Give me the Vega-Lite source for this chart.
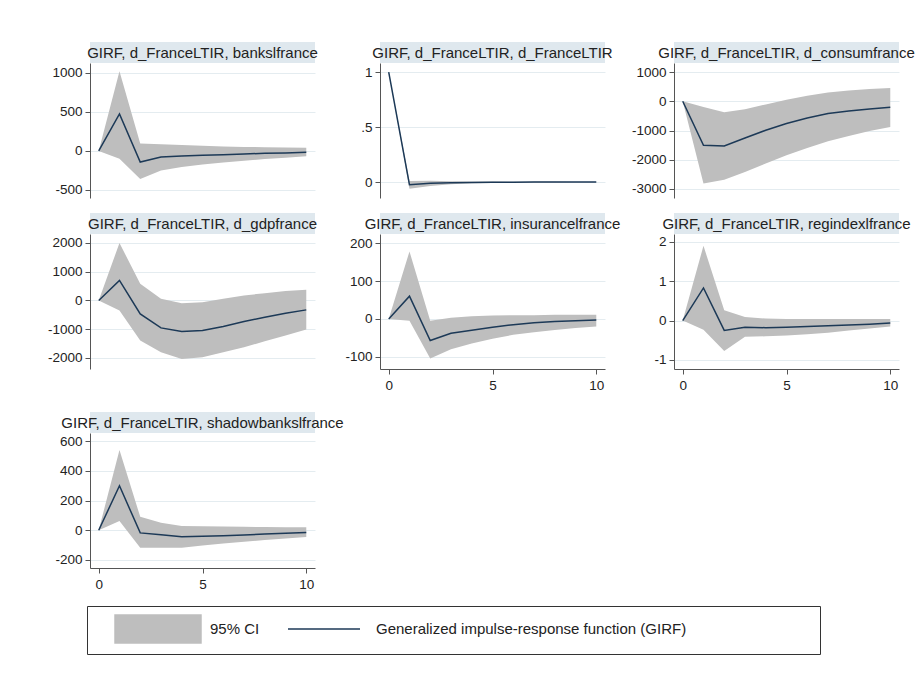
{
  "$schema": "https://vega.github.io/schema/vega-lite/v6.json",
  "background": "white",
  "padding": {"left": 47, "top": 42, "right": 5, "bottom": 5},
  "datasets": {
    "titles": [
      {"response": "bankslfrance", "label": "GIRF, d_FranceLTIR, bankslfrance"},
      {"response": "d_FranceLTIR", "label": "GIRF, d_FranceLTIR, d_FranceLTIR"},
      {"response": "d_consumfrance", "label": "GIRF, d_FranceLTIR, d_consumfrance"},
      {"response": "d_gdpfrance", "label": "GIRF, d_FranceLTIR, d_gdpfrance"},
      {"response": "insurancelfrance", "label": "GIRF, d_FranceLTIR, insurancelfrance"},
      {"response": "regindexlfrance", "label": "GIRF, d_FranceLTIR, regindexlfrance"},
      {"response": "shadowbankslfrance", "label": "GIRF, d_FranceLTIR, shadowbankslfrance"}
    ],
    "girf": [
      {"response": "bankslfrance", "step": 0, "girf": 0, "lo": 0, "hi": 0},
      {"response": "bankslfrance", "step": 1, "girf": 474, "lo": -100, "hi": 1021},
      {"response": "bankslfrance", "step": 2, "girf": -142, "lo": -358, "hi": 95},
      {"response": "bankslfrance", "step": 3, "girf": -78, "lo": -250, "hi": 85},
      {"response": "bankslfrance", "step": 4, "girf": -65, "lo": -207, "hi": 75},
      {"response": "bankslfrance", "step": 5, "girf": -56, "lo": -172, "hi": 66},
      {"response": "bankslfrance", "step": 6, "girf": -47, "lo": -147, "hi": 58},
      {"response": "bankslfrance", "step": 7, "girf": -39, "lo": -125, "hi": 52},
      {"response": "bankslfrance", "step": 8, "girf": -30, "lo": -103, "hi": 48},
      {"response": "bankslfrance", "step": 9, "girf": -26, "lo": -86, "hi": 45},
      {"response": "bankslfrance", "step": 10, "girf": -17, "lo": -69, "hi": 42},

      {"response": "d_FranceLTIR", "step": 0, "girf": 1, "lo": 1, "hi": 1},
      {"response": "d_FranceLTIR", "step": 1, "girf": -0.025, "lo": -0.06, "hi": 0.01},
      {"response": "d_FranceLTIR", "step": 2, "girf": -0.012, "lo": -0.035, "hi": 0.012},
      {"response": "d_FranceLTIR", "step": 3, "girf": -0.006, "lo": -0.02, "hi": 0.008},
      {"response": "d_FranceLTIR", "step": 4, "girf": -0.003, "lo": -0.012, "hi": 0.005},
      {"response": "d_FranceLTIR", "step": 5, "girf": -0.002, "lo": -0.008, "hi": 0.004},
      {"response": "d_FranceLTIR", "step": 6, "girf": -0.001, "lo": -0.005, "hi": 0.003},
      {"response": "d_FranceLTIR", "step": 7, "girf": 0, "lo": -0.004, "hi": 0.002},
      {"response": "d_FranceLTIR", "step": 8, "girf": 0, "lo": -0.003, "hi": 0.002},
      {"response": "d_FranceLTIR", "step": 9, "girf": 0, "lo": -0.002, "hi": 0.001},
      {"response": "d_FranceLTIR", "step": 10, "girf": 0, "lo": -0.001, "hi": 0.001},

      {"response": "d_consumfrance", "step": 0, "girf": 0, "lo": 0, "hi": 0},
      {"response": "d_consumfrance", "step": 1, "girf": -1504, "lo": -2815, "hi": -200},
      {"response": "d_consumfrance", "step": 2, "girf": -1527, "lo": -2680, "hi": -380},
      {"response": "d_consumfrance", "step": 3, "girf": -1254, "lo": -2415, "hi": -270},
      {"response": "d_consumfrance", "step": 4, "girf": -991, "lo": -2130, "hi": -110},
      {"response": "d_consumfrance", "step": 5, "girf": -763, "lo": -1846, "hi": 50},
      {"response": "d_consumfrance", "step": 6, "girf": -570, "lo": -1595, "hi": 190},
      {"response": "d_consumfrance", "step": 7, "girf": -422, "lo": -1368, "hi": 300},
      {"response": "d_consumfrance", "step": 8, "girf": -330, "lo": -1185, "hi": 370},
      {"response": "d_consumfrance", "step": 9, "girf": -262, "lo": -1014, "hi": 420},
      {"response": "d_consumfrance", "step": 10, "girf": -205, "lo": -877, "hi": 450},

      {"response": "d_gdpfrance", "step": 0, "girf": 0, "lo": 0, "hi": 0},
      {"response": "d_gdpfrance", "step": 1, "girf": 698, "lo": -349, "hi": 2000},
      {"response": "d_gdpfrance", "step": 2, "girf": -465, "lo": -1395, "hi": 581},
      {"response": "d_gdpfrance", "step": 3, "girf": -953, "lo": -1802, "hi": 58},
      {"response": "d_gdpfrance", "step": 4, "girf": -1081, "lo": -2035, "hi": -93},
      {"response": "d_gdpfrance", "step": 5, "girf": -1047, "lo": -1977, "hi": -58},
      {"response": "d_gdpfrance", "step": 6, "girf": -907, "lo": -1802, "hi": 58},
      {"response": "d_gdpfrance", "step": 7, "girf": -733, "lo": -1628, "hi": 174},
      {"response": "d_gdpfrance", "step": 8, "girf": -581, "lo": -1419, "hi": 256},
      {"response": "d_gdpfrance", "step": 9, "girf": -442, "lo": -1221, "hi": 326},
      {"response": "d_gdpfrance", "step": 10, "girf": -326, "lo": -1012, "hi": 372},

      {"response": "insurancelfrance", "step": 0, "girf": 0, "lo": 0, "hi": 0},
      {"response": "insurancelfrance", "step": 1, "girf": 60, "lo": -5, "hi": 178},
      {"response": "insurancelfrance", "step": 2, "girf": -57, "lo": -104, "hi": -5},
      {"response": "insurancelfrance", "step": 3, "girf": -38, "lo": -80, "hi": 3},
      {"response": "insurancelfrance", "step": 4, "girf": -30, "lo": -65, "hi": 7},
      {"response": "insurancelfrance", "step": 5, "girf": -22, "lo": -52, "hi": 9},
      {"response": "insurancelfrance", "step": 6, "girf": -15, "lo": -42, "hi": 10},
      {"response": "insurancelfrance", "step": 7, "girf": -10, "lo": -35, "hi": 10},
      {"response": "insurancelfrance", "step": 8, "girf": -7, "lo": -29, "hi": 11},
      {"response": "insurancelfrance", "step": 9, "girf": -5, "lo": -24, "hi": 11},
      {"response": "insurancelfrance", "step": 10, "girf": -3, "lo": -20, "hi": 11},

      {"response": "regindexlfrance", "step": 0, "girf": 0, "lo": 0, "hi": 0},
      {"response": "regindexlfrance", "step": 1, "girf": 0.83, "lo": -0.23, "hi": 1.9},
      {"response": "regindexlfrance", "step": 2, "girf": -0.25, "lo": -0.77, "hi": 0.26},
      {"response": "regindexlfrance", "step": 3, "girf": -0.17, "lo": -0.41, "hi": 0.09},
      {"response": "regindexlfrance", "step": 4, "girf": -0.18, "lo": -0.4, "hi": 0.05},
      {"response": "regindexlfrance", "step": 5, "girf": -0.17, "lo": -0.38, "hi": 0.04},
      {"response": "regindexlfrance", "step": 6, "girf": -0.15, "lo": -0.35, "hi": 0.04},
      {"response": "regindexlfrance", "step": 7, "girf": -0.13, "lo": -0.31, "hi": 0.04},
      {"response": "regindexlfrance", "step": 8, "girf": -0.11, "lo": -0.25, "hi": 0.04},
      {"response": "regindexlfrance", "step": 9, "girf": -0.09, "lo": -0.2, "hi": 0.04},
      {"response": "regindexlfrance", "step": 10, "girf": -0.06, "lo": -0.15, "hi": 0.04},

      {"response": "shadowbankslfrance", "step": 0, "girf": 0, "lo": 0, "hi": 0},
      {"response": "shadowbankslfrance", "step": 1, "girf": 299, "lo": 62, "hi": 540},
      {"response": "shadowbankslfrance", "step": 2, "girf": -18, "lo": -117, "hi": 90},
      {"response": "shadowbankslfrance", "step": 3, "girf": -30, "lo": -117, "hi": 50},
      {"response": "shadowbankslfrance", "step": 4, "girf": -44, "lo": -117, "hi": 28},
      {"response": "shadowbankslfrance", "step": 5, "girf": -41, "lo": -103, "hi": 27},
      {"response": "shadowbankslfrance", "step": 6, "girf": -37, "lo": -90, "hi": 25},
      {"response": "shadowbankslfrance", "step": 7, "girf": -32, "lo": -78, "hi": 23},
      {"response": "shadowbankslfrance", "step": 8, "girf": -25, "lo": -66, "hi": 21},
      {"response": "shadowbankslfrance", "step": 9, "girf": -20, "lo": -56, "hi": 20},
      {"response": "shadowbankslfrance", "step": 10, "girf": -15, "lo": -46, "hi": 20}
    ]
  },
  "spacing": 0,
  "hconcat": [
    {
      "spacing": 43,
      "vconcat": [
        {
          "spacing": 15,
          "vconcat": [
            {
              "spacing": 0,
              "vconcat": [
                {"width": 225, "height": 21, "view": {"fill": "#dfe8ee", "stroke": null},
                 "data": {"name": "titles"}, "transform": [{"filter": "datum.response === 'bankslfrance'"}],
                 "mark": {"type": "text", "fontSize": 15, "color": "#222"},
                 "encoding": {"text": {"field": "label"}}},
                {"width": 225, "height": 135,
                 "data": {"name": "girf"}, "transform": [{"filter": "datum.response === 'bankslfrance'"}],
                 "encoding": {"x": {"field": "step", "type": "quantitative", "title": null, "axis": null,
                                    "scale": {"domain": [-0.42, 10.42], "nice": false, "zero": false}}},
                 "layer": [
                   {"mark": {"type": "area", "opacity": 1},
                    "encoding": {
                      "y": {"field": "hi", "type": "quantitative", "title": null,
                            "scale": {"domain": [-603, 1128], "nice": false, "zero": false},
                            "axis": {"values": [-500, 0, 500, 1000], "tickCount": 20, "labelExpr": "'' + datum.value", "labelOverlap": false}},
                      "y2": {"field": "lo"},
                      "color": {"datum": "95% CI", "type": "nominal",
                                "scale": {"domain": ["95% CI", "Generalized impulse-response function (GIRF)"], "range": ["#bebebe", "#1c3957"]},
                                "legend": {
                                  "title": null, "orient": "none", "legendX": -3, "legendY": 564,
                                  "direction": "horizontal", "columns": 2, "padding": 8,
                                  "strokeColor": "#333", "fillColor": "#ffffff",
                                  "symbolType": {"expr": "datum.value === '95% CI' ? 'M-3.071,-1H3.071V1H-3.071Z' : 'M-2.571,0H2.571M0,-1M0,1'"},
                                  "symbolStrokeColor": {"expr": "datum.value === '95% CI' ? '#bebebe' : '#1c3957'"},
                                  "symbolSize": 784, "symbolStrokeWidth": 1.5, "symbolOpacity": 1,
                                  "symbolOffset": 48, "labelOffset": 37, "columnPadding": 1,
                                  "labelFont": "Liberation Sans", "labelFontSize": 15, "labelColor": "#222", "labelLimit": 1000,
                                  "labelExpr": "datum.value == '95% CI' ? datum.label : datum.label + '\u00a0\u00a0\u00a0\u00a0\u00a0\u00a0\u00a0\u00a0\u00a0\u00a0\u00a0\u00a0\u00a0\u00a0\u00a0\u00a0\u00a0\u00a0\u00a0\u00a0\u00a0\u00a0\u00a0\u00a0\u00a0\u00a0\u00a0\u00a0\u00a0\u00a0\u200b'"
                                }}
                    }},
                   {"mark": {"type": "line", "strokeWidth": 1.5},
                    "encoding": {
                      "y": {"field": "girf", "type": "quantitative", "title": null,
                            "scale": {"domain": [-603, 1128], "nice": false, "zero": false}},
                      "color": {"datum": "Generalized impulse-response function (GIRF)", "type": "nominal"}
                    }}
                 ]}
              ]
            },
            {
              "spacing": 0,
              "vconcat": [
                {"width": 225, "height": 21, "view": {"fill": "#dfe8ee", "stroke": null},
                 "data": {"name": "titles"}, "transform": [{"filter": "datum.response === 'd_gdpfrance'"}],
                 "mark": {"type": "text", "fontSize": 15, "color": "#222"},
                 "encoding": {"text": {"field": "label"}}},
                {"width": 225, "height": 135,
                 "data": {"name": "girf"}, "transform": [{"filter": "datum.response === 'd_gdpfrance'"}],
                 "encoding": {"x": {"field": "step", "type": "quantitative", "title": null, "axis": null,
                                    "scale": {"domain": [-0.42, 10.42], "nice": false, "zero": false}}},
                 "layer": [
                   {"mark": {"type": "area", "opacity": 1},
                    "encoding": {
                      "y": {"field": "hi", "type": "quantitative", "title": null,
                            "scale": {"domain": [-2383, 2313], "nice": false, "zero": false},
                            "axis": {"values": [-2000, -1000, 0, 1000, 2000], "tickCount": 20, "labelExpr": "'' + datum.value", "labelOverlap": false}},
                      "y2": {"field": "lo"},
                      "color": {"datum": "95% CI", "type": "nominal"}
                    }},
                   {"mark": {"type": "line", "strokeWidth": 1.5},
                    "encoding": {
                      "y": {"field": "girf", "type": "quantitative", "title": null,
                            "scale": {"domain": [-2383, 2313], "nice": false, "zero": false}},
                      "color": {"datum": "Generalized impulse-response function (GIRF)", "type": "nominal"}
                    }}
                 ]}
              ]
            }
          ]
        },
        {
          "spacing": 0,
          "vconcat": [
            {"width": 225, "height": 21, "view": {"fill": "#dfe8ee", "stroke": null},
             "data": {"name": "titles"}, "transform": [{"filter": "datum.response === 'shadowbankslfrance'"}],
             "mark": {"type": "text", "fontSize": 15, "color": "#222"},
             "encoding": {"text": {"field": "label"}}},
            {"width": 225, "height": 135,
             "data": {"name": "girf"}, "transform": [{"filter": "datum.response === 'shadowbankslfrance'"}],
             "encoding": {"x": {"field": "step", "type": "quantitative", "title": null,
                                "scale": {"domain": [-0.42, 10.42], "nice": false, "zero": false},
                                "axis": {"values": [0, 5, 10], "tickCount": 20, "labelExpr": "'' + datum.value", "labelOverlap": false}}},
             "layer": [
               {"mark": {"type": "area", "opacity": 1},
                "encoding": {
                  "y": {"field": "hi", "type": "quantitative", "title": null,
                        "scale": {"domain": [-254, 654], "nice": false, "zero": false},
                        "axis": {"values": [-200, 0, 200, 400, 600], "tickCount": 20, "labelExpr": "'' + datum.value", "labelOverlap": false}},
                  "y2": {"field": "lo"},
                  "color": {"datum": "95% CI", "type": "nominal"}
                }},
               {"mark": {"type": "line", "strokeWidth": 1.5},
                "encoding": {
                  "y": {"field": "girf", "type": "quantitative", "title": null,
                        "scale": {"domain": [-254, 654], "nice": false, "zero": false}},
                  "color": {"datum": "Generalized impulse-response function (GIRF)", "type": "nominal"}
                }}
             ]}
          ]
        }
      ]
    },
    {
      "spacing": 10,
      "hconcat": [
        {
          "spacing": 15,
          "vconcat": [
            {
              "spacing": 0,
              "vconcat": [
                {"width": 225, "height": 21, "view": {"fill": "#dfe8ee", "stroke": null},
                 "data": {"name": "titles"}, "transform": [{"filter": "datum.response === 'd_FranceLTIR'"}],
                 "mark": {"type": "text", "fontSize": 15, "color": "#222"},
                 "encoding": {"text": {"field": "label"}}},
                {"width": 225, "height": 135,
                 "data": {"name": "girf"}, "transform": [{"filter": "datum.response === 'd_FranceLTIR'"}],
                 "encoding": {"x": {"field": "step", "type": "quantitative", "title": null, "axis": null,
                                    "scale": {"domain": [-0.42, 10.42], "nice": false, "zero": false}}},
                 "layer": [
                   {"mark": {"type": "area", "opacity": 1},
                    "encoding": {
                      "y": {"field": "hi", "type": "quantitative", "title": null,
                            "scale": {"domain": [-0.145, 1.082], "nice": false, "zero": false},
                            "axis": {"values": [0, 0.5, 1], "tickCount": 20, "labelExpr": "datum.value == 0.5 ? '.5' : '' + datum.value", "labelOverlap": false}},
                      "y2": {"field": "lo"},
                      "color": {"datum": "95% CI", "type": "nominal"}
                    }},
                   {"mark": {"type": "line", "strokeWidth": 1.5},
                    "encoding": {
                      "y": {"field": "girf", "type": "quantitative", "title": null,
                            "scale": {"domain": [-0.145, 1.082], "nice": false, "zero": false}},
                      "color": {"datum": "Generalized impulse-response function (GIRF)", "type": "nominal"}
                    }}
                 ]}
              ]
            },
            {
              "spacing": 0,
              "vconcat": [
                {"width": 225, "height": 21, "view": {"fill": "#dfe8ee", "stroke": null},
                 "data": {"name": "titles"}, "transform": [{"filter": "datum.response === 'insurancelfrance'"}],
                 "mark": {"type": "text", "fontSize": 15, "color": "#222"},
                 "encoding": {"text": {"field": "label"}}},
                {"width": 225, "height": 135,
                 "data": {"name": "girf"}, "transform": [{"filter": "datum.response === 'insurancelfrance'"}],
                 "encoding": {"x": {"field": "step", "type": "quantitative", "title": null,
                                    "scale": {"domain": [-0.42, 10.42], "nice": false, "zero": false},
                                    "axis": {"values": [0, 5, 10], "tickCount": 20, "labelExpr": "'' + datum.value", "labelOverlap": false}}},
                 "layer": [
                   {"mark": {"type": "area", "opacity": 1},
                    "encoding": {
                      "y": {"field": "hi", "type": "quantitative", "title": null,
                            "scale": {"domain": [-132, 224], "nice": false, "zero": false},
                            "axis": {"values": [-100, 0, 100, 200], "tickCount": 20, "labelExpr": "'' + datum.value", "labelOverlap": false}},
                      "y2": {"field": "lo"},
                      "color": {"datum": "95% CI", "type": "nominal"}
                    }},
                   {"mark": {"type": "line", "strokeWidth": 1.5},
                    "encoding": {
                      "y": {"field": "girf", "type": "quantitative", "title": null,
                            "scale": {"domain": [-132, 224], "nice": false, "zero": false}},
                      "color": {"datum": "Generalized impulse-response function (GIRF)", "type": "nominal"}
                    }}
                 ]}
              ]
            }
          ]
        },
        {
          "spacing": 15,
          "vconcat": [
            {
              "spacing": 0,
              "vconcat": [
                {"width": 225, "height": 21, "view": {"fill": "#dfe8ee", "stroke": null},
                 "data": {"name": "titles"}, "transform": [{"filter": "datum.response === 'd_consumfrance'"}],
                 "mark": {"type": "text", "fontSize": 15, "color": "#222"},
                 "encoding": {"text": {"field": "label"}}},
                {"width": 225, "height": 135,
                 "data": {"name": "girf"}, "transform": [{"filter": "datum.response === 'd_consumfrance'"}],
                 "encoding": {"x": {"field": "step", "type": "quantitative", "title": null, "axis": null,
                                    "scale": {"domain": [-0.42, 10.42], "nice": false, "zero": false}}},
                 "layer": [
                   {"mark": {"type": "area", "opacity": 1},
                    "encoding": {
                      "y": {"field": "hi", "type": "quantitative", "title": null,
                            "scale": {"domain": [-3308, 1308], "nice": false, "zero": false},
                            "axis": {"values": [-3000, -2000, -1000, 0, 1000], "tickCount": 20, "labelExpr": "'' + datum.value", "labelOverlap": false}},
                      "y2": {"field": "lo"},
                      "color": {"datum": "95% CI", "type": "nominal"}
                    }},
                   {"mark": {"type": "line", "strokeWidth": 1.5},
                    "encoding": {
                      "y": {"field": "girf", "type": "quantitative", "title": null,
                            "scale": {"domain": [-3308, 1308], "nice": false, "zero": false}},
                      "color": {"datum": "Generalized impulse-response function (GIRF)", "type": "nominal"}
                    }}
                 ]}
              ]
            },
            {
              "spacing": 0,
              "vconcat": [
                {"width": 225, "height": 21, "view": {"fill": "#dfe8ee", "stroke": null},
                 "data": {"name": "titles"}, "transform": [{"filter": "datum.response === 'regindexlfrance'"}],
                 "mark": {"type": "text", "fontSize": 15, "color": "#222"},
                 "encoding": {"text": {"field": "label"}}},
                {"width": 225, "height": 135,
                 "data": {"name": "girf"}, "transform": [{"filter": "datum.response === 'regindexlfrance'"}],
                 "encoding": {"x": {"field": "step", "type": "quantitative", "title": null,
                                    "scale": {"domain": [-0.42, 10.42], "nice": false, "zero": false},
                                    "axis": {"values": [0, 5, 10], "tickCount": 20, "labelExpr": "'' + datum.value", "labelOverlap": false}}},
                 "layer": [
                   {"mark": {"type": "area", "opacity": 1},
                    "encoding": {
                      "y": {"field": "hi", "type": "quantitative", "title": null,
                            "scale": {"domain": [-1.23, 2.2], "nice": false, "zero": false},
                            "axis": {"values": [-1, 0, 1, 2], "tickCount": 20, "labelExpr": "'' + datum.value", "labelOverlap": false}},
                      "y2": {"field": "lo"},
                      "color": {"datum": "95% CI", "type": "nominal"}
                    }},
                   {"mark": {"type": "line", "strokeWidth": 1.5},
                    "encoding": {
                      "y": {"field": "girf", "type": "quantitative", "title": null,
                            "scale": {"domain": [-1.23, 2.2], "nice": false, "zero": false}},
                      "color": {"datum": "Generalized impulse-response function (GIRF)", "type": "nominal"}
                    }}
                 ]}
              ]
            }
          ]
        }
      ]
    }
  ],
  "config": {
    "font": "Liberation Sans",
    "view": {"stroke": null},
    "axis": {
      "labelFont": "Liberation Sans", "labelFontSize": 13.5, "labelColor": "#222",
      "domainColor": "#555", "tickColor": "#555", "tickSize": 5, "labelPadding": 3,
      "labelOverlap": false, "labelBound": false
    },
    "axisY": {"grid": true, "gridColor": "#e4ecf0", "gridWidth": 1, "labelAngle": 0},
    "axisX": {"grid": false, "labelPadding": 4},
    "text": {"font": "Liberation Sans"}
  }
}
